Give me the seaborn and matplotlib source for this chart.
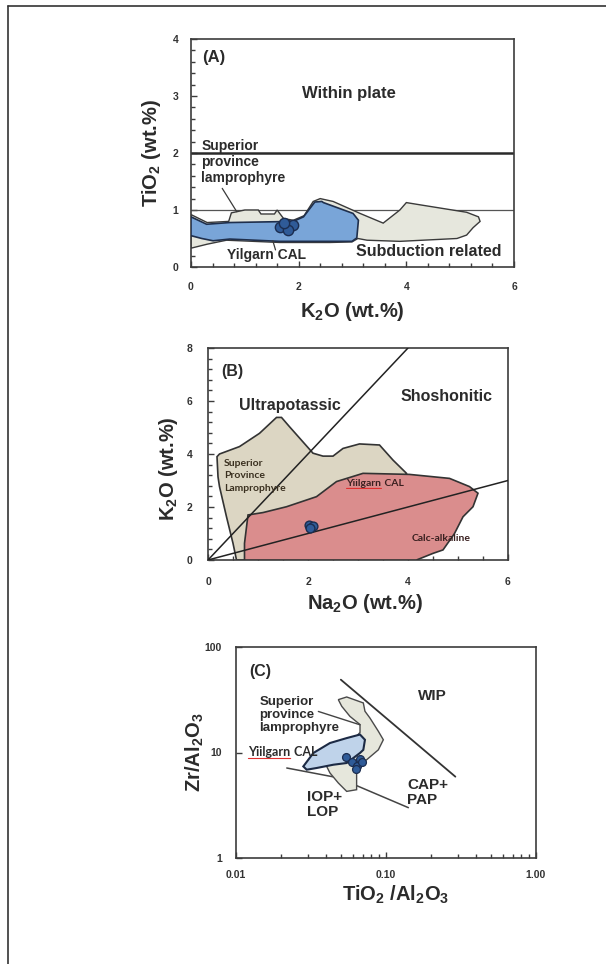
import matplotlib
matplotlib.use("Agg")
import matplotlib.pyplot as plt
import seaborn as sns
import pandas as pd
from matplotlib.ticker import MultipleLocator, FixedLocator, NullLocator, FixedFormatter, NullFormatter
from matplotlib.lines import Line2D

# ---------------- (A) TiO2 vs K2O ----------------
a_spl_k2o = [0.0, 0.30, 0.70, 0.75, 1.00, 1.25, 1.30, 1.55, 1.60, 1.72, 1.90, 2.10, 2.27, 2.40, 2.64,
             3.14, 3.57, 3.88, 4.00, 4.26, 5.12, 5.34, 5.37, 5.24, 5.12, 4.94, 3.88, 3.27, 3.10,
             2.99, 2.58, 1.65, 0.66, 0.30, 0.0]
a_spl_tio2 = [0.92, 0.78, 0.80, 0.95, 1.00, 1.00, 0.93, 0.93, 1.00, 0.85, 0.82, 0.90, 1.15, 1.20, 1.15,
              0.94, 0.77, 1.00, 1.13, 1.09, 0.96, 0.88, 0.80, 0.69, 0.56, 0.50, 0.45, 0.47, 0.50,
              0.44, 0.43, 0.43, 0.47, 0.40, 0.33]
a_cal_k2o = [0.0, 0.29, 0.72, 1.90, 2.09, 2.30, 2.43, 2.46, 3.01, 3.11, 3.08, 2.99, 2.58, 1.65,
             0.72, 0.41, 0.20, 0.0]
a_cal_tio2 = [0.88, 0.75, 0.78, 0.80, 0.88, 1.14, 1.15, 1.13, 0.94, 0.82, 0.51, 0.45, 0.45, 0.45,
              0.49, 0.46, 0.50, 0.55]
a_samples_k2o = [1.65, 1.78, 1.90, 1.81, 1.72]
a_samples_tio2 = [0.71, 0.74, 0.74, 0.65, 0.77]
a_within_plate_tio2 = 2.0
a_subduction_tio2 = 1.0
a_leader_spl = ([0.58, 0.85], [1.38, 0.97])
a_leader_cal = ([1.57, 1.52], [0.30, 0.46])

# ---------------- (B) K2O vs Na2O ----------------
b_spl_na2o = [0.57, 0.50, 0.37, 0.23, 0.20, 0.18, 0.23, 0.63, 1.03, 1.37, 1.47, 1.63, 2.10, 2.30,
              2.50, 2.70, 3.03, 3.43, 3.70, 3.97, 3.00, 1.00]
b_spl_k2o = [0.0, 0.63, 1.63, 2.77, 3.14, 3.90, 4.00, 4.28, 4.78, 5.38, 5.38, 5.03, 4.03, 3.92,
             3.92, 4.21, 4.38, 4.34, 3.77, 3.27, 1.00, 0.0]
b_cal_na2o = [0.73, 0.73, 0.80, 1.10, 1.57, 2.17, 2.57, 3.10, 4.03, 4.83, 5.23, 5.40, 5.30, 5.10,
              4.93, 4.70, 4.50, 4.17]
b_cal_k2o = [0.0, 0.63, 1.70, 1.79, 2.01, 2.39, 2.96, 3.27, 3.23, 3.08, 2.77, 2.52, 2.01, 1.63,
             1.00, 0.38, 0.25, 0.0]
b_samples_na2o = [2.03, 2.10, 2.05]
b_samples_k2o = [1.32, 1.30, 1.20]
b_ultrapotassic_line = ([0.0, 4.0], [0.0, 8.0])
b_calcalkaline_line = ([0.0, 6.0], [0.0, 3.0])

# ---------------- (C) Zr/Al2O3 vs TiO2/Al2O3 ----------------
c_spl_ti = [0.0481, 0.0547, 0.0706, 0.0724, 0.0782, 0.0889, 0.0960, 0.0889, 0.0744, 0.0637, 0.0637,
            0.0547, 0.0481, 0.0423, 0.0400, 0.0600, 0.0671, 0.0671, 0.0575, 0.0507]
c_spl_zr = [31.7, 33.6, 29.5, 24.6, 21.2, 15.9, 13.2, 10.6, 8.55, 7.38, 4.44,
            4.28, 5.14, 6.40, 7.50, 13.0, 15.5, 18.4, 22.0, 27.4]
c_cal_ti = [0.0281, 0.0328, 0.0423, 0.0547, 0.0671, 0.0724, 0.0706, 0.0671, 0.0547, 0.0446, 0.0345, 0.0296]
c_cal_zr = [7.38, 9.90, 12.3, 13.7, 14.8, 13.2, 10.6, 9.90, 7.95, 7.66, 7.13, 6.87]
c_samples_ti = [0.054, 0.0589, 0.0636, 0.0671, 0.063, 0.069]
c_samples_zr = [9.06, 8.07, 7.50, 8.70, 6.97, 8.07]
c_wip_line = ([0.050, 0.29], [49.0, 5.9])
c_iop_line = ([0.0218, 0.048, 0.141], [7.13, 5.76, 3.0])
c_leader_spl = ([0.0354, 0.0671], [24.5, 18.3])

sns.set_theme(style="white")
plt.rcParams.update({
    "font.family": ["Liberation Sans", "DejaVu Sans"],
    "font.weight": "bold",
    "axes.labelweight": "bold",
    "mathtext.fontset": "custom",
    "mathtext.rm": "Liberation Sans:bold",
    "mathtext.it": "Liberation Sans:bold",
    "mathtext.bf": "Liberation Sans:bold",
    "mathtext.sf": "Liberation Sans:bold",
    "text.color": "#2b2b2b",
    "axes.labelcolor": "#2b2b2b",
})

INK = "#333333"
PT_FACE = "#2f5b98"
PT_EDGE = "#1b2d50"
CAL_FONT = ["Lato", "DejaVu Sans"]

fig = plt.figure(figsize=(6.06, 9.64), dpi=100)
fig.patch.set_facecolor("white")

W, H = 606.0, 964.0


def make_axes(x0, y0, x1, y1):
    return fig.add_axes([x0 / W, 1 - y1 / H, (x1 - x0) / W, (y1 - y0) / H])


def style_axes(ax):
    for s in ax.spines.values():
        s.set_color("#3c3c3c")
        s.set_linewidth(1.2)
        s.set_visible(True)
    ax.tick_params(which="both", direction="in", colors="#3c3c3c", labelcolor="#333333",
                   labelsize=7.5, top=False, right=False, left=True, bottom=True)
    ax.tick_params(which="major", length=4, width=1)
    ax.tick_params(which="minor", length=3, width=1)
    ax.set_facecolor("white")
    ax.grid(False)


def underline(ax, artist, color="#e03030"):
    ax.annotate("", xy=(0, 0), xycoords=artist, xytext=(1, 0), textcoords=artist,
                arrowprops=dict(arrowstyle="-", color=color, lw=0.8, shrinkA=0, shrinkB=0))


# ---------- Panel A ----------
axA = make_axes(191, 39, 514, 267)
style_axes(axA)
axA.set_xlim(0, 6)
axA.set_ylim(0, 4)
axA.axhline(a_subduction_tio2, color="#555555", lw=0.9, zorder=1)
axA.axhline(a_within_plate_tio2, color="#2a2a2a", lw=1.8, zorder=1)
axA.fill(a_spl_k2o, a_spl_tio2, facecolor="#e6e7dd", edgecolor="#3a3a3a", lw=1.0, zorder=2)
axA.fill(a_cal_k2o, a_cal_tio2, facecolor="#79a5d8", edgecolor="#1f2f4c", lw=1.2, zorder=3)
axA.plot(*a_leader_spl, color="#3a3a3a", lw=0.9, zorder=4)
axA.plot(*a_leader_cal, color="#3a3a3a", lw=0.9, zorder=4)
sns.scatterplot(x=a_samples_k2o, y=a_samples_tio2, ax=axA, s=55, color=PT_FACE,
                edgecolor=PT_EDGE, linewidth=1.0, zorder=5, legend=False)
axA.xaxis.set_major_locator(FixedLocator([0, 2, 4, 6]))
axA.xaxis.set_minor_locator(MultipleLocator(0.4))
axA.yaxis.set_major_locator(MultipleLocator(1))
axA.yaxis.set_minor_locator(MultipleLocator(0.2))
axA.tick_params(axis="x", pad=11)
axA.tick_params(axis="y", pad=9)
axA.text(0.20, 3.68, "(A)", fontsize=12, ha="left", va="center")
axA.text(2.94, 3.05, "Within plate", fontsize=12, ha="center", va="center")
axA.text(0.19, 1.84, "Superior\nprovince\nlamprophyre", fontsize=10, ha="left", va="center",
         linespacing=1.15)
axA.text(1.41, 0.21, "Yilgarn CAL", fontsize=10, ha="center", va="center")
axA.text(4.42, 0.28, "Subduction related", fontsize=11.5, ha="center", va="center")
axA.set_xlabel(r"K$_2$O (wt.%)", fontsize=14.5)
axA.set_ylabel(r"TiO$_2$ (wt.%)", fontsize=14.5)
axA.xaxis.set_label_coords(0.498, -0.193)
axA.xaxis.label.set_va("center")
axA.yaxis.set_label_coords(-0.121, 0.5)
axA.yaxis.label.set_va("center")

# ---------- Panel B ----------
axB = make_axes(208, 348, 508, 560)
style_axes(axB)
axB.set_xlim(0, 6)
axB.set_ylim(0, 8)
axB.fill(b_spl_na2o, b_spl_k2o, facecolor="#dcd6c3", edgecolor="#333333", lw=1.2, zorder=2)
axB.fill(b_cal_na2o, b_cal_k2o, facecolor="#da8d8d", edgecolor="#333333", lw=1.2, zorder=3)
axB.plot(*b_ultrapotassic_line, color="#222222", lw=1.1, zorder=4)
axB.plot(*b_calcalkaline_line, color="#222222", lw=1.1, zorder=4)
sns.scatterplot(x=b_samples_na2o, y=b_samples_k2o, ax=axB, s=40, color=PT_FACE,
                edgecolor=PT_EDGE, linewidth=1.0, zorder=5, legend=False)
axB.xaxis.set_major_locator(FixedLocator([0, 2, 4, 6]))
axB.xaxis.set_minor_locator(MultipleLocator(0.5))
axB.yaxis.set_major_locator(MultipleLocator(2))
axB.yaxis.set_minor_locator(MultipleLocator(0.4))
axB.tick_params(axis="x", pad=12)
axB.tick_params(axis="y", pad=11)
axB.text(0.27, 7.10, "(B)", fontsize=11.5, ha="left", va="center")
axB.text(1.64, 5.82, "Ultrapotassic", fontsize=11.5, ha="center", va="center")
axB.text(4.77, 6.16, "Shoshonitic", fontsize=11.5, ha="center", va="center")
axB.text(0.32, 3.17, "Superior\nProvince\nLamprophyre", fontsize=7.5, ha="left", va="center",
         linespacing=1.45, family=CAL_FONT, color="#3a3020", zorder=6)
tB = axB.text(2.77, 2.87, "Yiilgarn", fontsize=7.5, ha="left", va="center", family=CAL_FONT,
              color="#3a2020", zorder=6)
axB.annotate(" CAL", xy=(1, 0.5), xycoords=tB, va="center", ha="left", fontsize=7.5,
             family=CAL_FONT, color="#3a2020", zorder=6)
underline(axB, tB)
axB.text(4.66, 0.82, "Calc-alkaline", fontsize=7.5, ha="center", va="center", family=CAL_FONT,
         color="#3a2020", zorder=6)
axB.set_xlabel(r"Na$_2$O (wt.%)", fontsize=14.5)
axB.set_ylabel(r"K$_2$O (wt.%)", fontsize=14.5)
axB.xaxis.set_label_coords(0.523, -0.203)
axB.xaxis.label.set_va("center")
axB.yaxis.set_label_coords(-0.133, 0.43)
axB.yaxis.label.set_va("center")

# ---------- Panel C ----------
axC = make_axes(236, 647, 536, 858)
style_axes(axC)
axC.set_xscale("log")
axC.set_yscale("log")
axC.set_xlim(0.01, 1.0)
axC.set_ylim(1, 100)
axC.plot(*c_iop_line, color="#444444", lw=1.1, zorder=1)
axC.fill(c_spl_ti, c_spl_zr, facecolor="#e6e7dc", edgecolor="#4a4a4a", lw=1.0, zorder=2)
axC.fill(c_cal_ti, c_cal_zr, facecolor="#bfd3ea", edgecolor="#1c2a44", lw=1.5, zorder=3)
axC.plot(*c_wip_line, color="#333333", lw=1.3, zorder=4)
axC.plot(*c_leader_spl, color="#444444", lw=1.0, zorder=4)
sns.scatterplot(x=c_samples_ti, y=c_samples_zr, ax=axC, s=32, color=PT_FACE,
                edgecolor=PT_EDGE, linewidth=0.9, zorder=5, legend=False)
axC.xaxis.set_major_locator(FixedLocator([0.01, 0.1, 1.0]))
axC.xaxis.set_major_formatter(FixedFormatter(["0.01", "0.10", "1.00"]))
axC.xaxis.set_minor_locator(FixedLocator([m * d for d in (0.01, 0.1) for m in range(2, 10)]))
axC.xaxis.set_minor_formatter(NullFormatter())
axC.yaxis.set_major_locator(FixedLocator([1, 10, 100]))
axC.yaxis.set_major_formatter(FixedFormatter(["1", "10", "100"]))
axC.yaxis.set_minor_locator(NullLocator())
axC.tick_params(axis="x", pad=9)
axC.tick_params(axis="y", pad=10)
axC.text(0.01227, 58.5, "(C)", fontsize=11.5, ha="left", va="center")
axC.text(0.205, 34.0, "WIP", fontsize=11, ha="center", va="center")
axC.text(0.0143, 22.8, "Superior\nprovince\nlamprophyre", fontsize=9.5, ha="left", va="center",
         linespacing=1.1)
tC = axC.text(0.0121, 10.0, "Yiilgarn", fontsize=9, ha="left", va="center", family=CAL_FONT,
              color="#2b2b2b", zorder=6)
axC.annotate(" CAL", xy=(1, 0.5), xycoords=tC, va="center", ha="left", fontsize=9,
             family=CAL_FONT, color="#2b2b2b", zorder=6)
underline(axC, tC)
axC.text(0.0296, 3.2, "IOP+\nLOP", fontsize=11, ha="left", va="center", linespacing=1.1)
axC.text(0.139, 4.17, "CAP+\nPAP", fontsize=11, ha="left", va="center", linespacing=1.1)
axC.set_xlabel(r"TiO$_2$ /Al$_2$O$_3$", fontsize=14.5)
axC.set_ylabel(r"Zr/Al$_2$O$_3$", fontsize=14.5)
axC.xaxis.set_label_coords(0.533, -0.175)
axC.xaxis.label.set_va("center")
axC.yaxis.set_label_coords(-0.137, 0.5)
axC.yaxis.label.set_va("center")

for ax in (axA, axB, axC):
    for lab in ax.get_xticklabels() + ax.get_yticklabels():
        lab.set_fontweight("bold")

# frame around the figure page (left and top edges)
fig.add_artist(Line2D([8 / W, 8 / W], [0, 1 - 6 / H], transform=fig.transFigure,
                      color="#333333", lw=1.2))
fig.add_artist(Line2D([8 / W, 1], [1 - 6 / H, 1 - 6 / H], transform=fig.transFigure,
                      color="#333333", lw=1.2))

fig.savefig("out.png", dpi=100)
